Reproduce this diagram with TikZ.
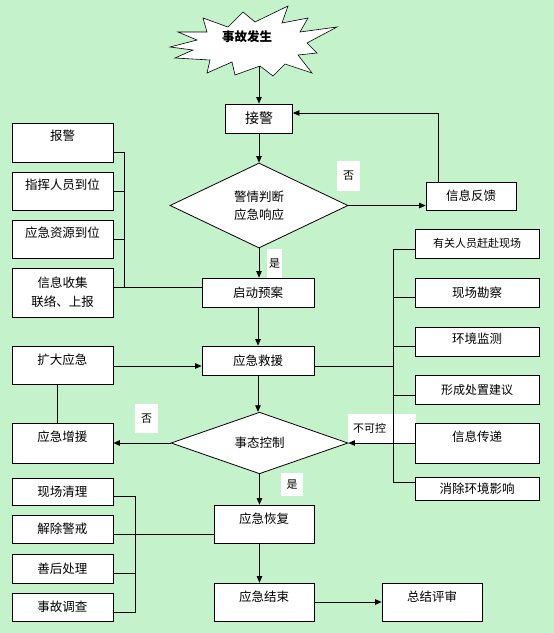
\documentclass[tikz,border=0pt]{standalone}
\usepackage{fontspec}
\newfontfamily\cjk{Noto Sans CJK SC}
\usetikzlibrary{shapes.geometric,arrows.meta}
\definecolor{bggreen}{RGB}{196,242,202}

\begin{document}
\begin{tikzpicture}[x=1pt,y=-1pt,
  box/.style={draw,fill=white,line width=0.8pt,inner sep=0pt,align=center,font=\cjk\fontsize{12.5}{19}\selectfont},
  txt/.style={inner sep=0pt,align=center,font=\cjk\fontsize{12.5}{19}\selectfont},
  decide/.style={diamond,draw,fill=white,line width=0.8pt,inner sep=0pt,align=center,font=\cjk\fontsize{12.5}{18}\selectfont},
  tag/.style={fill=white,inner sep=0pt,font=\cjk\fontsize{11}{13}\selectfont},
  line/.style={line width=0.8pt},
  arr/.style={line width=0.8pt,-{Triangle[length=6.5pt,width=5.5pt]}}]
\fill[bggreen] (0,0) rectangle (554,633);
%Text
\node[tag,minimum width=23pt,minimum height=30pt] (fou1) at (348.5,176) {否};
\node[tag,minimum width=15pt,minimum height=29pt] (shi1) at (274.5,263.5) {是};
\node[tag,minimum width=23pt,minimum height=29pt] (fou2) at (146.5,418.5) {否};
\node[tag,minimum width=68pt,minimum height=29pt,text width=58pt] (bukekong) at (382,428.5) {不可控};
\node[tag,minimum width=22pt,minimum height=23pt] (shi2) at (292,484.5) {是};
%Star
\draw[fill=white,line width=0.6pt] (203,18) -- (228,27) -- (243,12) -- (255,22) -- (288,6) -- (282,23) -- (308,18) -- (300,32) -- (337,27) -- (307,43) -- (317,53) -- (298,55) -- (312,73) -- (285,64) -- (273,76) -- (260,66) -- (235,75) -- (232,62) -- (207,73) -- (210,60) -- (175,58) -- (193,50) -- (170,47) -- (197,40) -- (178,32) -- (207,32) -- cycle;
\node[txt,font=\cjk\bfseries\fontsize{12.5}{15}\selectfont] (shigu) at (247,37) {事故发生};
\coordinate (star-b) at (259,66);
%Middle column
\node[box,minimum width=67pt,minimum height=29pt,font=\cjk\fontsize{14}{16}\selectfont] (jiejing) at (259,118.5) {接警};
\node[decide,minimum width=178pt,minimum height=85pt] (panduan) at (259,205.5) {警情判断\\应急响应};
\node[box,minimum width=112pt,minimum height=29pt] (qidong) at (258,292.5) {启动预案};
\node[box,minimum width=112pt,minimum height=29pt] (jiuyuan) at (258,360.5) {应急救援};
\node[decide,minimum width=177pt,minimum height=58pt] (kongzhi) at (259.5,443) {事态控制};
\node[box,minimum width=100pt,minimum height=38pt] (huifu) at (264,524) {};
\node[txt] (huifu-t) at (264,519) {应急恢复};
\node[box,minimum width=100pt,minimum height=38pt] (jieshu) at (264,602) {};
\node[txt] (jieshu-t) at (264,597) {应急结束};
\node[box,minimum width=100pt,minimum height=38pt] (pingshen) at (432,602) {};
\node[txt] (pingshen-t) at (432,597) {总结评审};
\node[box,minimum width=90pt,minimum height=28pt] (fankui) at (471,196) {信息反馈};
%Left column
\node[box,minimum width=101pt,minimum height=39pt] (baojing) at (62.5,142.5) {};
\node[txt] (baojing-t) at (62.5,136) {报警};
\node[box,minimum width=101pt,minimum height=38pt] (zhihui) at (62.5,191) {};
\node[txt] (zhihui-t) at (62.5,185) {指挥人员到位};
\node[box,minimum width=101pt,minimum height=38pt] (ziyuan) at (62.5,239) {};
\node[txt] (ziyuan-t) at (62.5,233) {应急资源到位};
\node[box,minimum width=101pt,minimum height=49pt] (xinxi) at (62.5,292.5) {信息收集\\联络、上报};
\node[box,minimum width=101pt,minimum height=38pt] (kuoda) at (62.5,365) {};
\node[txt] (kuoda-t) at (62.5,360) {扩大应急};
\node[box,minimum width=101pt,minimum height=40pt] (zengyuan) at (62.5,443) {};
\node[txt] (zengyuan-t) at (62.5,437) {应急增援};
\node[box,minimum width=101pt,minimum height=27pt] (qingli) at (62.5,491.5) {现场清理};
\node[box,minimum width=101pt,minimum height=28pt] (jiechu) at (62.5,529) {解除警戒};
\node[box,minimum width=101pt,minimum height=29pt] (shanhou) at (62.5,568.5) {善后处理};
\node[box,minimum width=101pt,minimum height=28pt] (diaocha) at (62.5,607) {事故调查};
%Right column
\node[box,minimum width=124pt,minimum height=29pt,font=\cjk\fontsize{11}{13}\selectfont] (ganfu) at (477,243.5) {有关人员赶赴现场};
\node[box,minimum width=124pt,minimum height=29pt] (kancha) at (477,292.5) {现场勘察};
\node[box,minimum width=124pt,minimum height=29pt] (jiance) at (477,341.5) {};
\node[txt] (jiance-t) at (477,339) {环境监测};
\node[box,minimum width=124pt,minimum height=29pt,font=\cjk\fontsize{12}{14}\selectfont] (jianyi) at (477,389.5) {形成处置建议};
\node[box,minimum width=124pt,minimum height=40pt] (chuandi) at (477,443) {};
\node[txt] (chuandi-t) at (477,437) {信息传递};
\node[box,minimum width=124pt,minimum height=23pt] (xiaochu) at (477,488.5) {消除环境影响};
%Bus points
\coordinate (lbus-t) at (124,152);
\coordinate (lbus-b) at (124,287);
\coordinate (rbus-t) at (393,249);
\coordinate (rbus-b) at (393,482);
\coordinate (dbus-t) at (135,496);
\coordinate (dbus-b) at (135,612);
%Arrows
\draw[arr] (star-b) -- (star-b |- jiejing.north);
\draw[arr] (jiejing.south) -- (panduan.north);
\draw[arr] (panduan.south) -- (panduan.south |- qidong.north);
\draw[arr] (qidong.south) -- (qidong.south |- jiuyuan.north);
\draw[arr] (jiuyuan.south) -- (jiuyuan.south |- kongzhi.north);
\draw[arr] (kongzhi.south) -- (kongzhi.south |- huifu.north);
\draw[arr] (kongzhi.south |- huifu.south) -- (kongzhi.south |- jieshu.north);
\draw[arr] (jieshu.east) -- (pingshen.west);
\draw[arr] (panduan.east) -- (panduan.east -| fankui.west);
\draw[arr] ([xshift=-33pt]fankui.north) |- ([yshift=5.5pt]jiejing.east);
\draw[arr] ([yshift=-1pt]kuoda.east) -- ([yshift=-1pt]kuoda.east -| jiuyuan.west);
\draw[line] ([xshift=-5.5pt]kuoda.south) -- ([xshift=-5.5pt]zengyuan.north);
\draw[arr] (kongzhi.west) -- (zengyuan.east);
\draw[arr] (chuandi.west) -- (kongzhi.east);
%Left bus
\draw[line] ([yshift=-9.5pt]baojing.east) -- (lbus-t) -- (lbus-b) -- ([yshift=5.5pt]xinxi.east);
\draw[line] (zhihui.east) -- (zhihui.east -| lbus-t);
\draw[line] (ziyuan.east) -- (ziyuan.east -| lbus-t);
\draw[line] (lbus-b) -- ([yshift=5.5pt]qidong.west);
%Right bus
\draw[line] ([yshift=-5.5pt]ganfu.west) -- (rbus-t) -- (rbus-b) -- ([yshift=6.5pt]xiaochu.west);
\draw[line] ([yshift=-4.5pt]kancha.west) -- ([yshift=-4.5pt]kancha.west -| rbus-t);
\draw[line] ([yshift=-4.5pt]jiance.west) -- ([yshift=-4.5pt]jiance.west -| rbus-t);
\draw[line] ([yshift=-5.5pt]jianyi.west) -- ([yshift=-5.5pt]jianyi.west -| rbus-t);
\draw[line] ([yshift=-5.5pt]jiuyuan.east) -- ([yshift=-5.5pt]jiuyuan.east -| rbus-t);
%Bottom bus
\draw[line] ([yshift=-4.5pt]qingli.east) -- (dbus-t) -- (dbus-b) -- ([yshift=-5pt]diaocha.east);
\draw[line] ([yshift=-4.5pt]shanhou.east) -- ([yshift=-4.5pt]shanhou.east -| dbus-t);
\draw[line] ([yshift=-5pt]jiechu.east) -- ([yshift=-10pt]huifu.west);
\end{tikzpicture}
\end{document}
